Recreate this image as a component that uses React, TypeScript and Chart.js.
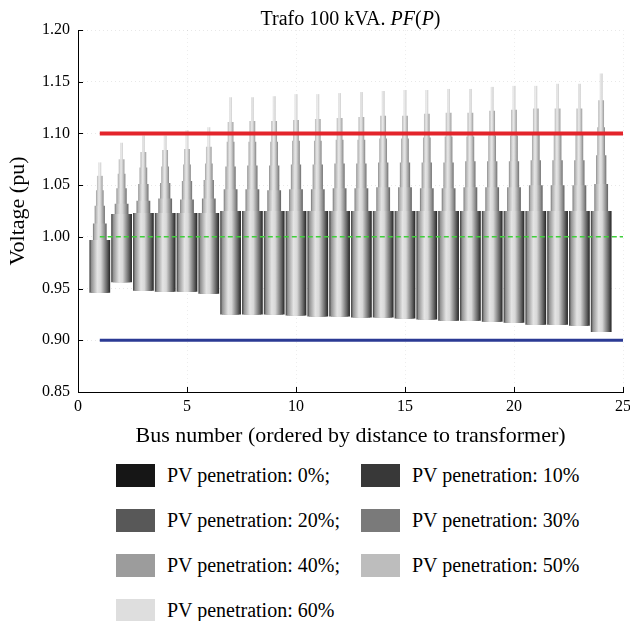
import React, { useEffect, useRef } from 'react';
import { Chart, registerables } from 'chart.js';

Chart.register(...registerables);

// ---------------- data ----------------
const buses = [1, 2, 3, 4, 5, 6, 7, 8, 9, 10, 11, 12, 13, 14, 15, 16, 17, 18, 19, 20, 21, 22, 23, 24];

const busMinVoltage = [0.946, 0.956, 0.948, 0.947, 0.947, 0.945, 0.925, 0.925, 0.925, 0.924, 0.923, 0.923, 0.922, 0.922, 0.921, 0.920, 0.919, 0.919, 0.918, 0.917, 0.915, 0.915, 0.914, 0.908];

const maxPv0 = [0.997, 1.022, 1.023, 1.023, 1.023, 1.023, 1.025, 1.025, 1.025, 1.025, 1.025, 1.025, 1.025, 1.025, 1.025, 1.025, 1.025, 1.025, 1.025, 1.025, 1.025, 1.025, 1.025, 1.025];
const maxPv10 = [0.996, 1.021, 1.022, 1.022, 1.022, 1.022, 1.024, 1.024, 1.024, 1.024, 1.024, 1.024, 1.024, 1.024, 1.024, 1.024, 1.024, 1.024, 1.024, 1.024, 1.024, 1.024, 1.024, 1.024];
const maxPv20 = [1.013, 1.032, 1.035, 1.037, 1.036, 1.037, 1.046, 1.046, 1.045, 1.046, 1.046, 1.047, 1.047, 1.048, 1.048, 1.047, 1.047, 1.048, 1.048, 1.048, 1.050, 1.050, 1.050, 1.051];
const maxPv30 = [1.030, 1.047, 1.051, 1.052, 1.054, 1.055, 1.068, 1.069, 1.069, 1.070, 1.070, 1.071, 1.071, 1.072, 1.072, 1.072, 1.072, 1.073, 1.073, 1.073, 1.074, 1.074, 1.074, 1.079];
const maxPv40 = [1.045, 1.061, 1.067, 1.068, 1.070, 1.071, 1.092, 1.092, 1.092, 1.093, 1.093, 1.094, 1.094, 1.095, 1.095, 1.096, 1.097, 1.097, 1.098, 1.098, 1.100, 1.100, 1.100, 1.106];
const maxPv50 = [1.059, 1.075, 1.082, 1.084, 1.085, 1.087, 1.111, 1.112, 1.112, 1.113, 1.114, 1.115, 1.116, 1.117, 1.117, 1.119, 1.120, 1.120, 1.122, 1.123, 1.124, 1.124, 1.124, 1.132];
const maxPv60 = [1.072, 1.091, 1.098, 1.098, 1.103, 1.106, 1.135, 1.135, 1.136, 1.138, 1.138, 1.139, 1.140, 1.141, 1.142, 1.142, 1.143, 1.143, 1.145, 1.146, 1.146, 1.148, 1.148, 1.158];

const penetrationLabels = [
  'PV penetration: 0%;',
  'PV penetration: 10%',
  'PV penetration: 20%;',
  'PV penetration: 30%',
  'PV penetration: 40%;',
  'PV penetration: 50%',
  'PV penetration: 60%',
];

const upperLimit = 1.1;
const nominalVoltage = 1.0;
const lowerLimit = 0.9;
const limitSpan = [1, 25];

const title = 'Trafo 100 kVA. ';
const xTitle = 'Bus number (ordered by distance to transformer)';
const yTitle = 'Voltage (pu)';

// ---------------- styles ----------------
const legendColors = ['#161616', '#383838', '#585858', '#7a7a7a', '#9c9c9c', '#bdbdbd', '#dedede'];
const barWidths = [0.95, 0.8, 0.63, 0.47, 0.35, 0.26, 0.13];
const edgeGray = [45, 60, 105, 120, 138, 158, 205];
const highGray = [228, 226, 226, 228, 230, 232, 236];

const FONT = '"Liberation Serif", "Times New Roman", serif';

function g(v: number) {
  const c = Math.max(0, Math.min(255, Math.round(v)));
  return `rgb(${c},${c},${c})`;
}

function makeBarColor(level: number) {
  return (ctx: any) => {
    const chart = ctx.chart;
    const xs = chart.scales && chart.scales.x;
    const e = edgeGray[level];
    const h = highGray[level];
    if (!xs || ctx.type !== 'data' || !ctx.parsed) return g((e + h) / 2);
    const px = xs.getPixelForValue(ctx.parsed.x);
    const unit = Math.abs(xs.getPixelForValue(1) - xs.getPixelForValue(0));
    const w = unit * barWidths[level];
    if (!isFinite(px) || !isFinite(w) || w <= 0) return g((e + h) / 2);
    const grad = chart.ctx.createLinearGradient(px - w / 2, 0, px + w / 2, 0);
    grad.addColorStop(0, g(e + 8));
    grad.addColorStop(0.1, g(e + (h - e) * 0.55));
    grad.addColorStop(0.38, g(h));
    grad.addColorStop(0.55, g(h - 12));
    grad.addColorStop(0.85, g(e + (h - e) * 0.3));
    grad.addColorStop(1, g(e - 10));
    return grad;
  };
}

const innerTicks = {
  id: 'innerTicks',
  afterDatasetsDraw(chart: any) {
    const { ctx, chartArea } = chart;
    const x = chart.scales.x;
    const y = chart.scales.y;
    ctx.save();
    ctx.strokeStyle = '#000';
    ctx.lineWidth = 1;
    y.ticks.forEach((_t: any, i: number) => {
      const py = Math.round(y.getPixelForTick(i)) + 0.5;
      ctx.beginPath();
      ctx.moveTo(chartArea.left, py);
      ctx.lineTo(chartArea.left + 5, py);
      ctx.stroke();
    });
    x.ticks.forEach((_t: any, i: number) => {
      const px = Math.round(x.getPixelForTick(i)) + 0.5;
      ctx.beginPath();
      ctx.moveTo(px, chartArea.bottom);
      ctx.lineTo(px, chartArea.bottom - 5);
      ctx.stroke();
    });
    ctx.restore();
  },
};

export default function App() {
  const ref = useRef<HTMLCanvasElement | null>(null);

  useEffect(() => {
    if (!ref.current) return;
    const maxes = [maxPv0, maxPv10, maxPv20, maxPv30, maxPv40, maxPv50, maxPv60];
    const barSets = maxes.map((mx, k) => ({
      type: 'bar' as const,
      label: penetrationLabels[k],
      data: buses.map((b, i) => ({ x: b, y: [busMinVoltage[i], mx[i]] })),
      backgroundColor: makeBarColor(k),
      borderWidth: 0,
      borderSkipped: false,
      grouped: false,
      barPercentage: barWidths[k],
      categoryPercentage: 1,
      order: k + 1,
    }));
    const lineSet = (v: number, color: string, width: number, dash: number[]) => ({
      type: 'line' as const,
      label: String(v),
      data: limitSpan.map((b) => ({ x: b, y: v })),
      borderColor: color,
      borderWidth: width,
      borderDash: dash,
      pointRadius: 0,
      fill: false,
      order: 0,
    });
    const chart = new Chart(ref.current, {
      type: 'bar',
      data: {
        datasets: [
          ...barSets,
          lineSet(upperLimit, '#e3242b', 4, []),
          lineSet(lowerLimit, '#2b3a94', 3, []),
          lineSet(nominalVoltage, '#3fcf3a', 1.5, [5, 3]),
        ] as any,
      },
      options: {
        responsive: false,
        animation: false,
        events: [],
        layout: { padding: { top: 30, right: 7, left: 0, bottom: 0 } },
        plugins: {
          legend: { display: false },
          tooltip: { enabled: false },
          title: { display: false },
        },
        scales: {
          x: {
            type: 'linear',
            min: 0,
            max: 25,
            offset: false,
            afterFit: (s: any) => {
              s.height = 60;
              s.paddingLeft = 0;
              s.paddingRight = 0;
            },
            ticks: {
              stepSize: 5,
              color: '#000',
              padding: 5,
              font: { family: FONT, size: 16 },
            },
            grid: { offset: false, color: 'rgba(0,0,0,0.07)', drawTicks: false },
            border: { display: true, color: '#000', width: 1, dash: [1, 3] },
            title: {
              display: true,
              text: xTitle,
              color: '#000',
              font: { family: FONT, size: 22 },
              padding: { top: 0, bottom: 3 },
            },
          },
          y: {
            type: 'linear',
            min: 0.85,
            max: 1.2,
            beginAtZero: false,
            afterFit: (s: any) => {
              s.width = 78;
            },
            ticks: {
              stepSize: 0.05,
              color: '#000',
              padding: 8,
              font: { family: FONT, size: 16 },
              callback: (v: any) => Number(v).toFixed(2),
            },
            grid: { color: 'rgba(0,0,0,0.09)', drawTicks: false },
            border: { display: true, color: '#000', width: 1, dash: [1, 3] },
            title: {
              display: true,
              text: yTitle,
              color: '#000',
              font: { family: FONT, size: 22 },
              padding: { top: 5, bottom: 0 },
            },
          },
        },
      } as any,
      plugins: [innerTicks],
    });
    return () => chart.destroy();
  }, []);

  const rowCenter = 475;
  const rowGap = 45;
  const colLeft = [116, 361];

  return (
    <div
      style={{
        position: 'absolute',
        left: 0,
        top: 0,
        width: 630,
        height: 621,
        background: '#fff',
        fontFamily: FONT,
        color: '#000',
        overflow: 'hidden',
      }}
    >
      <canvas ref={ref} width={630} height={452} style={{ position: 'absolute', left: 0, top: 0 }} />
      <div
        style={{
          position: 'absolute',
          left: 78,
          width: 545,
          top: 6,
          textAlign: 'center',
          fontSize: 20,
          lineHeight: '24px',
          whiteSpace: 'nowrap',
        }}
      >
        {title}
        <i>PF</i>(<i>P</i>)
      </div>
      {penetrationLabels.map((lab, k) => {
        const row = Math.floor(k / 2);
        const col = k % 2;
        return (
          <div
            key={lab}
            style={{
              position: 'absolute',
              left: colLeft[col],
              top: rowCenter + row * rowGap - 12,
              height: 24,
              display: 'flex',
              alignItems: 'center',
              whiteSpace: 'nowrap',
            }}
          >
            <span
              style={{
                display: 'inline-block',
                width: 39,
                height: 23,
                background: legendColors[k],
                marginRight: 12,
              }}
            />
            <span style={{ fontSize: 20, lineHeight: '24px' }}>{lab}</span>
          </div>
        );
      })}
    </div>
  );
}
